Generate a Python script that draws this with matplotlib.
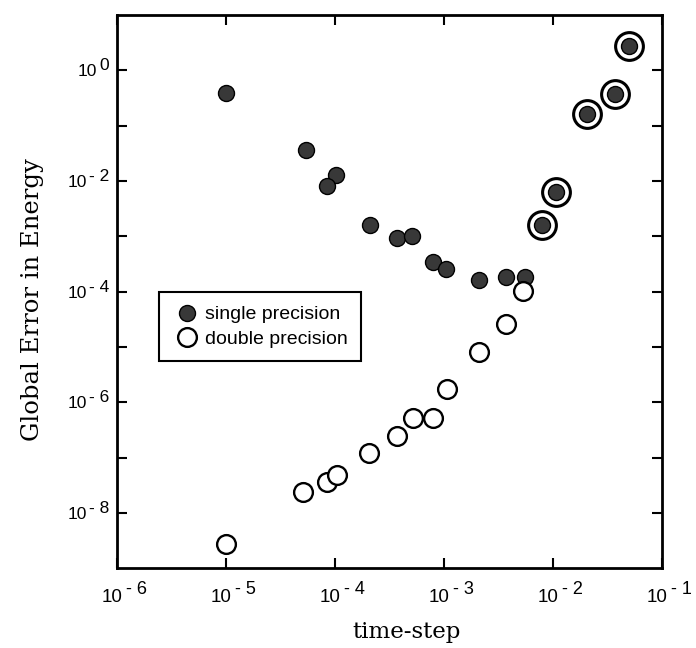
import numpy as np
import matplotlib
matplotlib.use('Agg')
import matplotlib.pyplot as pyplot
from matplotlib.ticker import FixedLocator, NullFormatter, NullLocator

# single precision runs (filled)
dt_single = [1.0e-5, 5.4e-5, 1.02e-4, 8.5e-5, 2.1e-4, 3.7e-4, 5.1e-4, 7.9e-4, 1.05e-3, 2.1e-3, 3.7e-3, 5.5e-3]
err_single = [0.39, 0.036, 0.013, 0.0081, 0.0016, 9.3e-4, 1.02e-3, 3.4e-4, 2.6e-4, 1.65e-4, 1.8e-4, 1.85e-4]

# runs where both precisions coincide (circled)
dt_both = [7.9e-3, 1.07e-2, 2.04e-2, 3.7e-2, 5.0e-2]
err_both = [1.6e-3, 6.3e-3, 0.159, 0.37, 2.7]

# double precision runs (open)
dt_double = [1.0e-5, 5.1e-5, 8.5e-5, 1.05e-4, 2.05e-4, 3.7e-4, 5.2e-4, 8.0e-4, 1.07e-3, 2.1e-3, 3.7e-3, 5.3e-3]
err_double = [2.8e-9, 2.35e-8, 3.7e-8, 4.9e-8, 1.23e-7, 2.5e-7, 5.3e-7, 5.3e-7, 1.75e-6, 8.2e-6, 2.65e-5, 1.03e-4]

x_exp = [-6, -5, -4, -3, -2, -1]
y_exp = [0, -1, -2, -3, -4, -5, -6, -7, -8]
y_lab_exp = [0, -2, -4, -6, -8]

fill = '#383838'
sans = 'Liberation Sans'

fig = pyplot.figure(figsize=(6.96, 6.48), dpi=100)
ax = fig.add_axes([0.168, 0.123, 0.783, 0.854])
ax.set_xscale('log')
ax.set_yscale('log')
ax.set_xlim(1e-6, 1e-1)
ax.set_ylim(1e-9, 1e1)

ax.plot(dt_single, err_single, 'o', ms=11.5, mfc=fill, mec='k', mew=1.0, zorder=3)
ax.plot(dt_both, err_both, 'o', ms=20, mfc='white', mec='k', mew=2.2, zorder=3)
ax.plot(dt_both, err_both, 'o', ms=11.5, mfc=fill, mec='k', mew=1.0, zorder=4)
ax.plot(dt_double, err_double, 'o', ms=13.5, mfc='white', mec='k', mew=1.7, zorder=5)

# ticks on every decade, all four sides, pointing in
ax.xaxis.set_major_locator(FixedLocator([10.0 ** e for e in x_exp]))
ax.yaxis.set_major_locator(FixedLocator([10.0 ** e for e in y_exp]))
ax.xaxis.set_minor_locator(NullLocator())
ax.yaxis.set_minor_locator(NullLocator())
ax.xaxis.set_major_formatter(NullFormatter())
ax.yaxis.set_major_formatter(NullFormatter())
ax.tick_params(which='both', direction='in', top=True, right=True, length=7, width=1.5)
for s in ax.spines.values():
    s.set_linewidth(2.0)

# tick labels written by hand: "10" with a nearly full size exponent
renderer = fig.canvas.get_renderer()
for e in x_exp:
    ax.annotate('10', xy=(10.0 ** e, 0), xycoords=('data', 'axes fraction'),
                xytext=(-5, -34), textcoords='offset pixels', ha='center', va='baseline',
                family=sans, fontsize=13.5)
    ax.annotate('- %d' % -e, xy=(10.0 ** e, 0), xycoords=('data', 'axes fraction'),
                xytext=(9, -26), textcoords='offset pixels', ha='left', va='baseline',
                family=sans, fontsize=13)
for e in y_lab_exp:
    expo = '0' if e == 0 else '- %d' % -e
    t = ax.annotate(expo, xy=(0, 10.0 ** e), xycoords=('axes fraction', 'data'),
                    xytext=(-8, 0), textcoords='offset pixels', ha='right', va='baseline',
                    family=sans, fontsize=12.5)
    w = t.get_window_extent(renderer).width
    ax.annotate('10', xy=(0, 10.0 ** e), xycoords=('axes fraction', 'data'),
                xytext=(-10 - w, -6), textcoords='offset pixels', ha='right', va='baseline',
                family=sans, fontsize=12.5)

ax.set_xlabel('time-step', family='DejaVu Serif', fontsize=16.5)
ax.xaxis.set_label_coords(0.532, -0.095)
ax.set_ylabel('Global Error in Energy', family='DejaVu Serif', fontsize=17.5)
ax.yaxis.set_label_coords(-0.134, 0.485)

h1, = ax.plot([], [], 'o', ms=11.5, mfc=fill, mec='k', mew=1.0)
h2, = ax.plot([], [], 'o', ms=13.5, mfc='white', mec='k', mew=1.7)
leg = ax.legend([h1, h2], ['single precision', 'double precision'], loc='upper left',
                bbox_to_anchor=(0.077, 0.499), borderaxespad=0, fancybox=False, framealpha=1,
                edgecolor='k', borderpad=0.7, handletextpad=0.15, handlelength=1.5,
                labelspacing=0.35, prop={'family': sans, 'size': 14})
leg.get_frame().set_linewidth(1.5)

pyplot.savefig('out.png', dpi=100)
